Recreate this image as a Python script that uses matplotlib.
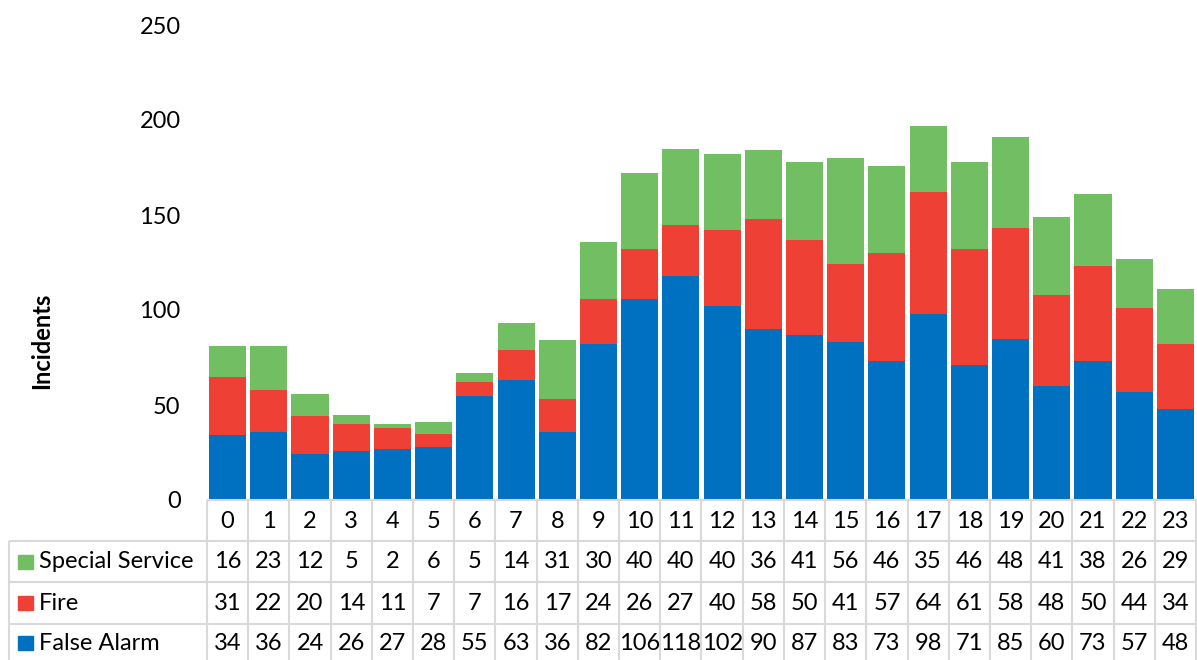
import matplotlib.pyplot as plt
from matplotlib.patches import Rectangle
from matplotlib.transforms import blended_transform_factory
import numpy as np

plt.rcParams['font.family'] = ['Lato', 'DejaVu Sans']

hours = [str(h) for h in range(24)]
special_service = [16, 23, 12, 5, 2, 6, 5, 14, 31, 30, 40, 40, 40, 36, 41, 56, 46, 35, 46, 48, 41, 38, 26, 29]
fire = [31, 22, 20, 14, 11, 7, 7, 16, 17, 24, 26, 27, 40, 58, 50, 41, 57, 64, 61, 58, 48, 50, 44, 34]
false_alarm = [34, 36, 24, 26, 27, 28, 55, 63, 36, 82, 106, 118, 102, 90, 87, 83, 73, 98, 71, 85, 60, 73, 57, 48]

series_names = ['Special Service', 'Fire', 'False Alarm']
colors = {'False Alarm': '#0070C0', 'Fire': '#EE4035', 'Special Service': '#72BF63'}

W, H = 1197, 660
fs = 17
fig = plt.figure(figsize=(W / 100, H / 100), dpi=100)
ax = fig.add_axes([207 / W, 1 - 500 / H, 989 / W, 475 / H])

x = np.arange(len(hours))
fa = np.array(false_alarm)
fi = np.array(fire)
ss = np.array(special_service)
ax.bar(x, fa, width=0.9, color=colors['False Alarm'])
ax.bar(x, fi, width=0.9, bottom=fa, color=colors['Fire'])
ax.bar(x, ss, width=0.9, bottom=fa + fi, color=colors['Special Service'])

ax.set_xlim(-0.5, len(hours) - 0.5)
ax.set_ylim(0, 250)
ax.set_yticks([0, 50, 100, 150, 200, 250])
ax.tick_params(axis='y', length=0, pad=19, labelsize=fs)
ax.set_xticks([])
for s in ax.spines.values():
    s.set_visible(False)


# pixel (from top of figure) -> axes fraction, axes spans 25..500
def py(p):
    return 1 - (p - 25) / 475.0


def px(p):
    return (p - 207) / 989.0


ax.set_ylabel('Incidents', fontsize=fs, fontweight='bold')
ax.yaxis.set_label_coords(px(53), py(341))

# data table under the bars, drawn by hand
tr = blended_transform_factory(ax.transData, ax.transAxes)
trax = ax.transAxes
grid = dict(color='#D9D9D9', lw=1.5, clip_on=False, solid_capstyle='butt')

row_tops = [500, 541, 582, 624, 666]

# horizontal lines
ax.plot([-0.5, 23.5], [py(500), py(500)], transform=tr, **grid)
for p in row_tops[1:]:
    ax.plot([px(9), 1.0], [py(p), py(p)], transform=trax, **grid)
# vertical lines
for i in range(25):
    ax.plot([i - 0.5, i - 0.5], [py(500), py(666)], transform=tr, **grid)
ax.plot([px(9), px(9)], [py(541), py(666)], transform=trax, **grid)

# header row
for i, h in enumerate(hours):
    ax.text(i, py(521), h, transform=tr, ha='center', va='center', fontsize=fs)

rows = [special_service, fire, false_alarm]
for r, (name, vals) in enumerate(zip(series_names, rows)):
    yc = (row_tops[r + 1] + row_tops[r + 2]) / 2
    if r == 2:
        yc = 643
    for i, v in enumerate(vals):
        ax.text(i, py(yc), str(v), transform=tr, ha='center', va='center', fontsize=fs)
    ax.text(px(39), py(yc), name, transform=trax, ha='left', va='center', fontsize=fs)
    kh = 14 / 475.0
    kw = 15 / 989.0
    ax.add_patch(Rectangle((px(18), py(yc) - kh / 2), kw, kh,
                           transform=trax, color=colors[name], clip_on=False))

fig.savefig('out.png', dpi=100)
